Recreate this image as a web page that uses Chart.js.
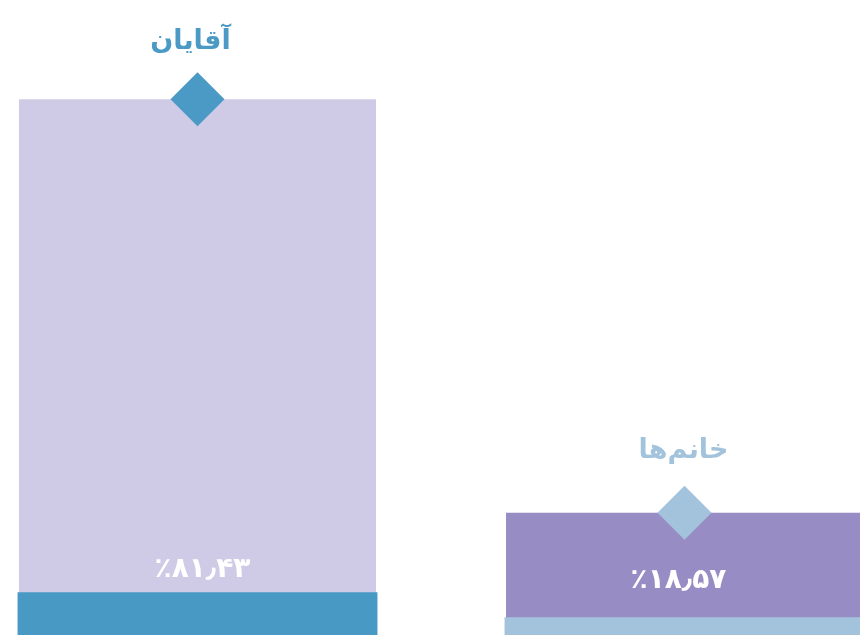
<!DOCTYPE html>
<html>
<head>
<meta charset="utf-8">
<script src="https://cdn.jsdelivr.net/npm/chart.js@4"></script>
<style>
  html, body { margin: 0; padding: 0; background: #ffffff; overflow: hidden; width: 860px; height: 635px; }
  #wrap { position: absolute; left: -46px; top: 0; width: 974px; height: 635px; }
</style>
</head>
<body>
<div id="wrap"><canvas id="c" width="974" height="635"></canvas></div>
<script>
// ---- data ----
const categories = ['آقایان', 'خانم‌ها'];
const values = [81.43, 18.57];
const valueLabels = ['٪۸۱٫۴۳', '٪۱۸٫۵۷'];
const baseBand = [6.5, 2.7];          // height of the coloured band at the foot of each bar
const yMax = 96.5;

// ---- styles ----
const barColors = ['#cfcbe7', '#978dc4'];
const bandColors = ['#4899c4', '#a3c3dd'];
const diamondColors = ['#4a9ac5', '#a3c3dd'];
const titleColors = ['#4a9ac5', '#a3c3dd'];
const valueLabelLift = [15, 29];       // px above the band top for the value text baseline
const valueLabelShift = [5, -6];       // px horizontal nudge of value text
const titleLift = [50, 55];            // px above bar top for the category title baseline
const titleShift = [-7, -1];
const diamondShift = -3;

const labelsPlugin = {
  id: 'labelsPlugin',
  afterDatasetsDraw(chart) {
    const ctx = chart.ctx;
    const barMeta = chart.getDatasetMeta(1);
    const bandMeta = chart.getDatasetMeta(2);
    ctx.save();
    ctx.textAlign = 'center';
    ctx.textBaseline = 'alphabetic';
    barMeta.data.forEach((bar, i) => {
      const band = bandMeta.data[i];
      ctx.fillStyle = '#ffffff';
      ctx.font = 'bold 28px "DejaVu Sans", sans-serif';
      ctx.fillText(valueLabels[i], bar.x + valueLabelShift[i], band.y - valueLabelLift[i]);
      ctx.fillStyle = titleColors[i];
      ctx.font = 'bold 27px "DejaVu Sans", sans-serif';
      ctx.fillText(categories[i], bar.x + titleShift[i], bar.y - titleLift[i]);
    });
    ctx.restore();
  }
};

new Chart(document.getElementById('c'), {
  data: {
    labels: categories,
    datasets: [
      {
        type: 'line',
        data: values,
        showLine: false,
        pointStyle: 'rectRot',
        pointRadius: 27,
        pointHoverRadius: 27,
        pointBackgroundColor: diamondColors,
        pointBorderColor: diamondColors,
        pointBorderWidth: 0,
        clip: false,
        order: 0
      },
      {
        type: 'bar',
        data: values,
        backgroundColor: barColors,
        grouped: false,
        barPercentage: 1,
        categoryPercentage: 0.733,
        borderWidth: 0,
        order: 2
      },
      {
        type: 'bar',
        data: baseBand,
        backgroundColor: bandColors,
        grouped: false,
        barPercentage: 1,
        categoryPercentage: 0.739,
        borderWidth: 0,
        order: 1
      }
    ]
  },
  options: {
    responsive: false,
    animation: false,
    layout: { padding: 0, autoPadding: false },
    plugins: { legend: { display: false }, tooltip: { enabled: false } },
    scales: {
      x: { display: false, offset: true },
      y: { display: false, min: 0, max: yMax, beginAtZero: true }
    }
  },
  plugins: [labelsPlugin]
});
</script>
</body>
</html>
